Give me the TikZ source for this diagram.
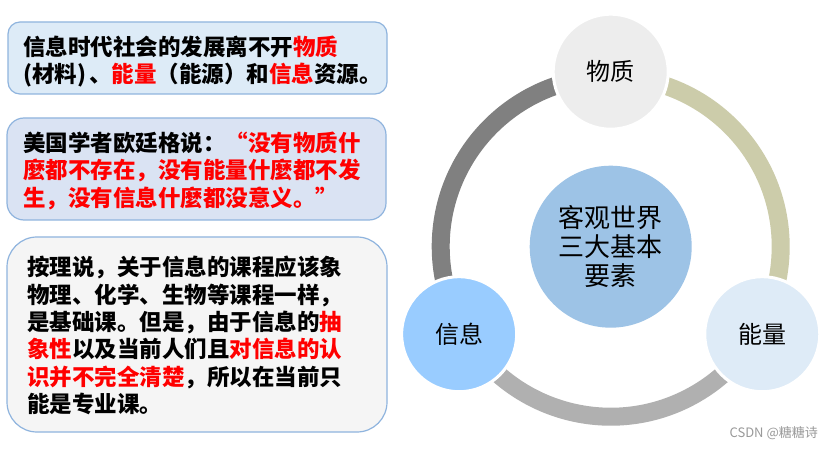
\documentclass[tikz,border=0pt]{standalone}
\usepackage{fontspec}
\usetikzlibrary{calc}
\setmainfont{Noto Sans CJK SC}
\definecolor{boxA}{HTML}{DDEBF7}
\definecolor{boxB}{HTML}{DAE3F3}
\definecolor{boxC}{HTML}{F5F5F5}
\definecolor{boxline}{HTML}{8FB4DE}
\definecolor{arcL}{HTML}{808080}
\definecolor{arcR}{HTML}{CCCCAA}
\definecolor{arcB}{HTML}{B0B0B0}
\definecolor{cTop}{HTML}{EDEDED}
\definecolor{cBL}{HTML}{99CCFF}
\definecolor{cBR}{HTML}{DEEBF7}
\definecolor{cMid}{HTML}{9DC3E6}
\definecolor{hlred}{HTML}{FF0000}
\newcommand\redtxt[1]{\textcolor{hlred}{#1}}
\newcommand\fwlq{\makebox[1em][r]{“}}
\newcommand\fwrq{\makebox[1em][l]{”}}
\begin{document}
\begin{tikzpicture}[x=1pt,y=1pt,
  txtbox/.style={draw=boxline, line width=1.2pt},
  boxtext/.style={anchor=west, align=left, inner sep=0pt, font=\bfseries\fontsize{22.5}{27.3}\selectfont},
  ring/.style={line width=18pt},
  elem/.style={circle, draw=white, line width=3pt, minimum size=115pt, inner sep=0pt, font=\fontsize{24}{28}\selectfont},
]
\useasboundingbox (0,0) rectangle (832,450);
\fill[white] (0,0) rectangle (832,450);

% left boxes
\draw[txtbox, fill=boxA, rounded corners=12pt] (8,356) rectangle (387,428);
\node[boxtext] (t1) at (23,388.5) {信息时代社会的发展离不开\redtxt{物质}\\(材料)\kern3pt 、\redtxt{能量}（能源）和\redtxt{信息}资源。};

\draw[txtbox, fill=boxB, rounded corners=17pt] (7,230) rectangle (386,332);
\node[boxtext] (t2) at (23,279.3) {美国学者欧廷格说：\redtxt{\fwlq 没有物质什}\\\redtxt{麼都不存在，没有能量什麼都不发}\\\redtxt{生，没有信息什麼都没意义。\fwrq}};

\draw[txtbox, fill=boxC, rounded corners=30pt] (7,18) rectangle (387,213);
\node[boxtext] (t3) at (27,114.5) {按理说，关于信息的课程应该象\\物理、化学、生物等课程一样，\\是基础课。但是，由于信息的\redtxt{抽}\\\redtxt{象性}以及当前人们且\redtxt{对信息的认}\\\redtxt{识并不完全清楚}，所以在当前只\\能是专业课。};

% cycle
\coordinate (O) at (610.7,203.3);
\draw[ring, arcL] (O) ++(90:170) arc[start angle=90, end angle=210, radius=170];
\draw[ring, arcR] (O) ++(90:170) arc[start angle=90, end angle=-30, radius=170];
\draw[ring, arcB] (O) ++(210:170) arc[start angle=210, end angle=330, radius=170];

\node[circle, fill=cMid, minimum size=162pt, inner sep=0pt, align=center, font=\fontsize{26}{29}\selectfont] (mid) at (O) {客观世界\\三大基本\\要素};
\node[elem, fill=cTop] (wz) at ($(O)+(90:175)$) {物质};
\node[elem, fill=cBL] (xx) at ($(O)+(210:175)$) {信息};
\node[elem, fill=cBR] (nl) at ($(O)+(330:175)$) {能量};

\node[anchor=east, inner sep=0pt, text=black!40, font=\fontsize{13}{15}\selectfont] (wm) at (818,17) {CSDN @糖糖诗};
\end{tikzpicture}
\end{document}
